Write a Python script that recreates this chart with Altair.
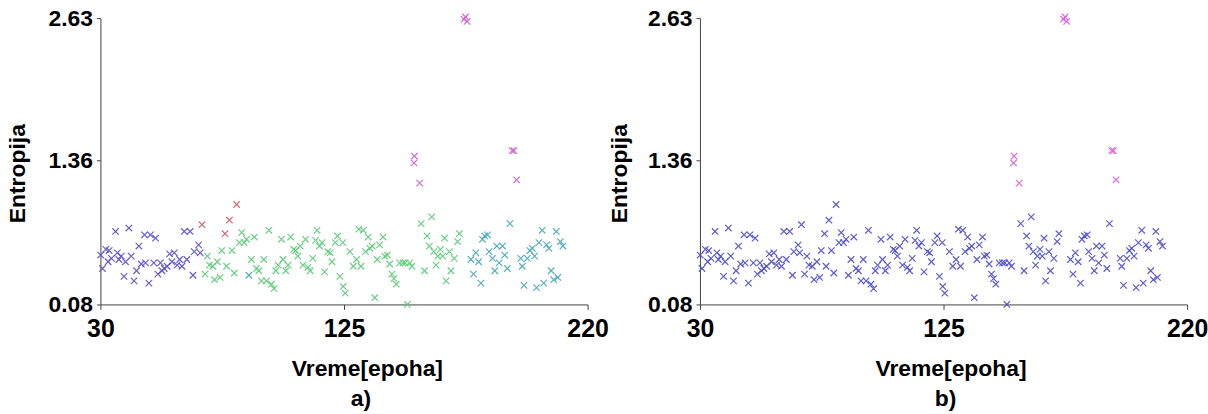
import altair as alt
import pandas as pd

# ---- data ----
x_ticks = [30, 125, 220]
y_ticks = [0.08, 1.36, 2.63]

purple_x = [30.1, 30.8, 32.1, 33.4, 33.0, 34.3, 35.9, 36.6, 37.2, 38.1, 39.2, 39.8, 41.1, 42.0,
            43.1, 44.1, 45.0, 45.9, 47.2, 47.6, 48.9, 49.5, 50.8, 51.5, 52.4, 53.4, 54.0, 54.9,
            56.0, 57.0, 57.9, 58.8, 59.9, 60.9, 61.8, 62.7, 63.7, 65.0, 66.1, 66.6, 68.3, 68.9]
purple_y = [0.52, 0.40, 0.57, 0.56, 0.46, 0.49, 0.73, 0.54, 0.48, 0.51, 0.33, 0.46, 0.76, 0.51,
            0.29, 0.38, 0.60, 0.44, 0.70, 0.45, 0.27, 0.70, 0.45, 0.67, 0.35, 0.45, 0.38, 0.40,
            0.42, 0.53, 0.46, 0.54, 0.43, 0.48, 0.42, 0.73, 0.48, 0.73, 0.34, 0.55, 0.61, 0.54]

red_x = [69.6, 78.6, 80.3, 83.1]
red_y = [0.79, 0.71, 0.83, 0.97]

green_x = [70.8, 71.7, 72.5, 73.8, 74.5, 75.6, 76.7, 77.3, 79.2, 81.3, 82.2, 84.2, 85.1, 86.0,
           87.0, 88.9, 90.0, 90.9, 91.8, 92.8, 93.7, 94.8, 95.7, 96.7, 97.7, 98.4, 99.3, 100.6,
           101.2, 102.3, 103.2, 104.2, 105.4, 106.1, 107.0, 107.9, 109.0, 110.0, 110.9, 111.8,
           112.8, 113.9, 114.5, 115.4, 116.4, 117.4, 118.7, 119.6, 120.3, 121.6, 122.5, 123.4,
           124.5, 124.7, 125.5, 127.3, 128.6, 129.9, 130.8, 131.6, 132.5, 133.4, 134.4, 135.1,
           136.0, 137.0, 138.0, 138.9, 140.2, 140.9, 141.9, 142.8, 143.7, 144.5, 145.4, 146.7,
           148.0, 148.9, 149.7, 150.6, 151.5, 155.1, 156.4, 157.4, 158.3, 159.2, 160.0, 160.9,
           161.6, 162.6, 163.5, 164.2, 164.8, 166.1, 166.7, 168.0, 169.3, 170.0]
green_y = [0.35, 0.51, 0.43, 0.42, 0.30, 0.46, 0.32, 0.56, 0.42, 0.56, 0.36, 0.63, 0.72, 0.63,
           0.66, 0.48, 0.68, 0.40, 0.38, 0.29, 0.48, 0.29, 0.74, 0.26, 0.22, 0.38, 0.43, 0.66,
           0.48, 0.38, 0.43, 0.68, 0.57, 0.56, 0.51, 0.60, 0.43, 0.66, 0.41, 0.38,
           0.49, 0.65, 0.74, 0.60, 0.63, 0.37, 0.55, 0.54, 0.46, 0.63, 0.69, 0.33,
           0.63, 0.24, 0.18, 0.55, 0.42, 0.48, 0.75, 0.42, 0.74, 0.55, 0.68, 0.58,
           0.60, 0.14, 0.48, 0.61, 0.68, 0.51, 0.52, 0.44, 0.35, 0.31, 0.26, 0.45,
           0.45, 0.45, 0.08, 0.45, 0.42, 0.80, 0.38, 0.69, 0.60, 0.86, 0.55, 0.43,
           0.51, 0.57, 0.51, 0.67, 0.29, 0.55, 0.38, 0.49, 0.64, 0.71]

teal_x = [87.9, 174.5, 175.5, 176.4, 177.5, 178.4, 179.0, 179.9, 181.0, 181.6, 182.9, 183.8,
          184.6, 185.5, 186.8, 187.7, 188.7, 189.7, 193.9, 194.5, 195.2, 196.5, 197.5, 198.4,
          199.3, 200.1, 201.0, 202.3, 202.9, 204.0, 204.9, 205.8, 206.8, 207.8, 208.4, 209.4, 210.4]
teal_y = [0.34, 0.48, 0.35, 0.54, 0.46, 0.27, 0.66, 0.69, 0.70, 0.55, 0.49, 0.38,
          0.60, 0.45, 0.60, 0.52, 0.40, 0.80, 0.49, 0.42, 0.25, 0.49, 0.56, 0.58,
          0.51, 0.23, 0.63, 0.74, 0.27, 0.61, 0.58, 0.38, 0.30, 0.73, 0.32, 0.64, 0.60]

magenta_x = [152.3, 152.5, 154.5, 171.8, 172.4, 173.0, 190.6, 191.3, 192.3]
magenta_y = [1.34, 1.40, 1.16, 2.62, 2.64, 2.60, 1.45, 1.45, 1.19]

groups_a = ["purple", "red", "green", "teal", "magenta"]
colors_a = ["#5a50cc", "#d45a6a", "#5ccb78", "#48a9b8", "#d060d0"]
groups_b = ["main", "outlier"]
colors_b = ["#4d4dcc", "#d862d8"]

series = {
    "purple": (purple_x, purple_y),
    "red": (red_x, red_y),
    "green": (green_x, green_y),
    "teal": (teal_x, teal_y),
    "magenta": (magenta_x, magenta_y),
}

rows = []
for g, (xs, ys) in series.items():
    for xv, yv in zip(xs, ys):
        rows.append({"epoch": xv, "entropy": yv, "ga": g,
                     "gb": "outlier" if g == "magenta" else "main"})
df = pd.DataFrame(rows)

FONT = "Liberation Sans"
XSHAPE = "M-1,-1L1,1M-1,1L1,-1"


def panel(field, dom, rng, label, xtitle_x, label_dx, ytitle_pad):
    return alt.Chart(df).mark_point(
        shape=XSHAPE, filled=False, size=42, strokeWidth=1.2, opacity=0.9
    ).encode(
        x=alt.X("epoch:Q",
                scale=alt.Scale(domain=[30, 220], nice=False, zero=False),
                axis=alt.Axis(values=x_ticks, format="d", title="Vreme[epoha]",
                              labelFlush=False, labelPadding=7, labelFontSize=25,
                              tickSize=5, titlePadding=16, titleFontSize=23,
                              titleX=xtitle_x)),
        y=alt.Y("entropy:Q",
                scale=alt.Scale(domain=[0.08, 2.63], nice=False, zero=False),
                axis=alt.Axis(values=y_ticks, format=".2f", title="Entropija",
                              labelFlush=False, labelPadding=4, labelFontSize=23,
                              tickSize=4, titlePadding=ytitle_pad, titleFontSize=23,
                              titleY=156)),
        color=alt.Color(f"{field}:N", scale=alt.Scale(domain=dom, range=rng), legend=None),
    ).properties(
        width=490, height=288,
        title=alt.TitleParams(label, orient="bottom", font=FONT, fontSize=23,
                              fontWeight="bold", color="black", offset=8, dx=label_dx),
    )


left = panel("ga", groups_a, colors_a, "a)", 268, 17, 19)
right = panel("gb", groups_b, colors_b, "b)", 252, 2, 16)

chart = alt.hconcat(left, right, spacing=0).resolve_scale(color="independent").properties(
    padding={"left": 6, "top": 6, "right": 0, "bottom": 0}
).configure_view(stroke=None).configure_axis(
    grid=False, domainColor="#444", tickColor="#444",
    labelFont=FONT, labelFontWeight="bold", labelColor="black",
    titleFont=FONT, titleFontWeight="bold", titleColor="black",
)

chart.save("out.html", embed_options={"renderer": "svg", "actions": False})
